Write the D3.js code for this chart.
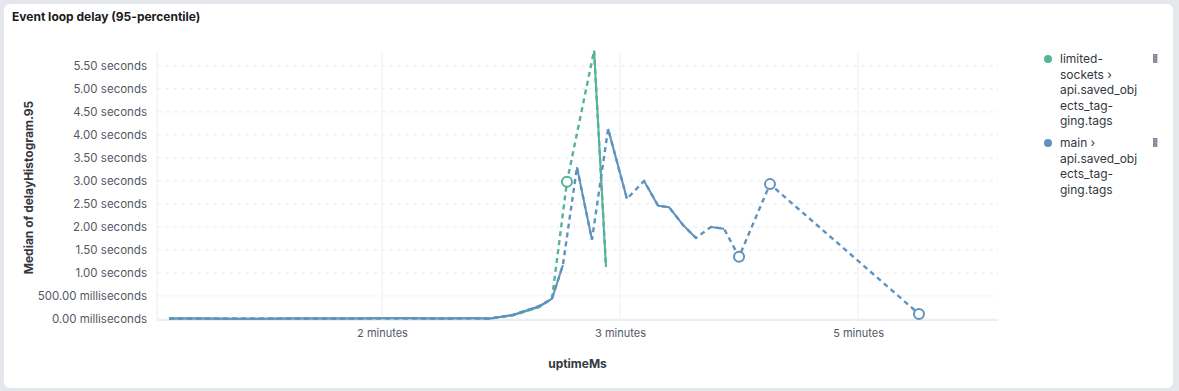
<!DOCTYPE html>
<html>
<head>
<meta charset="utf-8">
<script src="https://cdn.jsdelivr.net/npm/d3@7"></script>
<style>
  body { margin: 0; background: #e4e7ec; font-family: Inter, "Noto Sans", sans-serif; }
  svg { display: block; }
</style>
</head>
<body>
<svg id="chart" width="1179" height="391"></svg>
<script>
// uptimeMs of each bucket, null value = empty bucket (drawn as dashed gap)
const mainMs = [10500, 23500, 36500, 49500, 62000, 74500, 87000, 100000, 112000, 124500, 137000, 145500,
  155000, 166000, 171400, 176000, 179000, 181900, 188200, 191500, 195000, 202900, 206500, 210100,
  216000, 220600, 226500, 231900, 235000, 238200, 243700, 247000, 250000, 256500, 263000, 294000, 325600];
const mainVals = [0.01, 0.01, 0.005, 0.005, 0.01, 0.01, 0.01, 0.015, 0.015, 0.01, 0.015, 0.01,
  0.09, 0.28, 0.44, 1.17, null, 3.30, 1.72, null, 4.13, 2.61, null, 3.00,
  2.46, 2.43, 2.04, 1.76, null, 2.00, 1.96, null, 1.35, null, 2.93, null, 0.11];

const socketsMs = [10500, 23500, 36500, 49500, 62000, 74500, 87000, 100000, 112000, 124500, 137000, 145500,
  155000, 166000, 171400, 174500, 177700, 183500, 189100, 194100];
const socketsVals = [0.01, 0.01, 0.005, 0.005, 0.01, 0.01, 0.01, 0.015, 0.015, 0.01, 0.015, 0.01,
  0.08, 0.26, 0.44, null, 2.98, null, 5.83, 1.13];

const yTicks = [0, 0.5, 1, 1.5, 2, 2.5, 3, 3.5, 4, 4.5, 5, 5.5];
const xTicks = [100000, 200000, 300000];
const xTickLabels = ["2 minutes", "3 minutes", "5 minutes"];

const series = [
  { name: ["limited-", "sockets \u203a", "api.saved_obj", "ects_tag-", "ging.tags"], color: "#54B399", ms: socketsMs, vals: socketsVals },
  { name: ["main \u203a", "api.saved_obj", "ects_tag-", "ging.tags"], color: "#6092C0", ms: mainMs, vals: mainVals }
];

const svg = d3.select("#chart");

// panel card
svg.append("rect")
  .attr("x", 4).attr("y", 4).attr("width", 1169).attr("height", 384)
  .attr("rx", 6).attr("fill", "#fff");

svg.append("text")
  .attr("x", 12).attr("y", 21)
  .attr("font-size", 12).attr("font-weight", 700).attr("fill", "#1a1c21")
  .text("Event loop delay (95-percentile)");

const plotL = 157, plotR = 998, plotT = 52, plotB = 319;

const x = d3.scaleLinear().domain([5460, 358800]).range([plotL, plotR]);
const y = d3.scaleLinear().domain([0, 5.8]).range([plotB, plotT]);

// grid
svg.append("g").selectAll("line").data(yTicks).join("line")
  .attr("x1", plotL).attr("x2", plotR)
  .attr("y1", d => y(d)).attr("y2", d => y(d))
  .attr("stroke", "#e9ebee").attr("stroke-dasharray", "4,4");

svg.append("g").selectAll("line").data(xTicks).join("line")
  .attr("x1", d => x(d)).attr("x2", d => x(d))
  .attr("y1", plotT).attr("y2", plotB)
  .attr("stroke", "#eceef2");

// axis lines
svg.append("line").attr("x1", plotL).attr("x2", plotL).attr("y1", plotT).attr("y2", plotB + 1)
  .attr("stroke", "#eceef2");
svg.append("line").attr("x1", plotL).attr("x2", plotR).attr("y1", plotB + 1).attr("y2", plotB + 1)
  .attr("stroke", "#eceef2").attr("stroke-width", 2);

// y axis
const fmtY = v => v < 1 ? (v * 1000).toFixed(2) + " milliseconds" : v.toFixed(2) + " seconds";
const yAxis = svg.append("g")
  .attr("transform", `translate(${plotL},0)`)
  .call(d3.axisLeft(y).tickValues(yTicks).tickFormat(fmtY).tickSize(0).tickPadding(10));
yAxis.select(".domain").remove();
yAxis.selectAll("text").attr("font-family", "Inter, sans-serif").attr("font-size", 11.5).attr("fill", "#535966");

// x axis
const xAxis = svg.append("g")
  .attr("transform", `translate(0,${plotB})`)
  .call(d3.axisBottom(x).tickValues(xTicks).tickFormat((d, i) => xTickLabels[i]).tickSize(0).tickPadding(10));
xAxis.select(".domain").remove();
xAxis.selectAll("text").attr("font-family", "Inter, sans-serif").attr("font-size", 11).attr("fill", "#535966");

// axis titles
svg.append("text")
  .attr("transform", `translate(33,${(plotT + plotB) / 2 + 2}) rotate(-90)`)
  .attr("text-anchor", "middle")
  .attr("font-size", 12).attr("font-weight", 700).attr("fill", "#343741")
  .text("Median of delayHistogram.95");

svg.append("text")
  .attr("x", (plotL + plotR) / 2).attr("y", 368)
  .attr("text-anchor", "middle")
  .attr("font-size", 12).attr("font-weight", 700).attr("fill", "#343741")
  .text("uptimeMs");

// lines
const plot = svg.append("g");
series.forEach(s => {
  const pts = s.ms.map((m, i) => ({ m, v: s.vals[i], i }));
  const solid = d3.line().defined(d => d.v != null).x(d => x(d.m)).y(d => y(d.v));
  const full = d3.line().x(d => x(d.m)).y(d => y(d.v));
  const valid = pts.filter(d => d.v != null);

  plot.append("path").datum(valid)
    .attr("d", full).attr("fill", "none")
    .attr("stroke", s.color).attr("stroke-width", 2.4).attr("stroke-dasharray", "5,4");

  plot.append("path").datum(pts)
    .attr("d", solid).attr("fill", "none")
    .attr("stroke", s.color).attr("stroke-width", 2).attr("stroke-linejoin", "round");

  const isolated = pts.filter(d => d.v != null &&
    (d.i === 0 || pts[d.i - 1].v == null) &&
    (d.i === pts.length - 1 || pts[d.i + 1].v == null));
  plot.selectAll(null).data(isolated).join("circle")
    .attr("cx", d => x(d.m)).attr("cy", d => y(d.v)).attr("r", 5)
    .attr("fill", "#fff").attr("stroke", s.color).attr("stroke-width", 2);
});

// legend
let ly = 59;
series.forEach(s => {
  const g = svg.append("g");
  g.append("circle").attr("cx", 1048).attr("cy", ly).attr("r", 4).attr("fill", s.color);
  s.name.forEach((line, k) => {
    g.append("text")
      .attr("x", 1060).attr("y", ly + 4 + k * 15.6)
      .attr("font-size", 12).attr("fill", "#343741")
      .text(line);
  });
  [0, 3, 6].forEach(dy => {
    g.append("rect").attr("x", 1153.5).attr("y", ly - 4.5 + dy).attr("width", 3.5).attr("height", 2)
      .attr("fill", "#98a2b3").attr("stroke", "#69707d").attr("stroke-width", 0.7);
  });
  ly += s.name.length * 15.6 + 6;
});
</script>
</body>
</html>
